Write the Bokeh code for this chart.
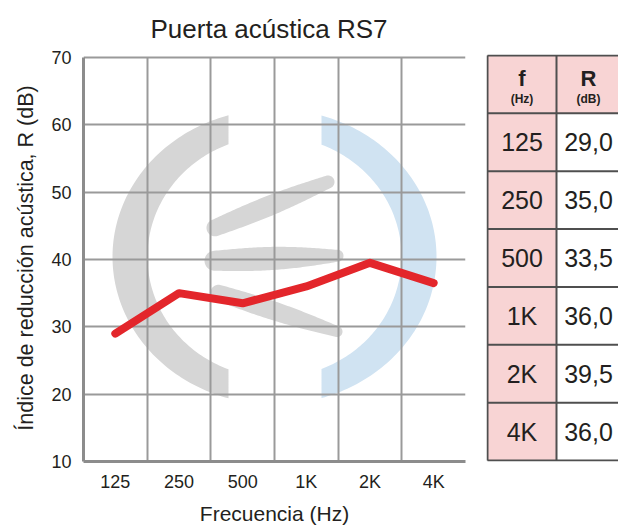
import numpy as np
from bokeh.plotting import figure
from bokeh.models import Range1d, FixedTicker, Grid
from bokeh.layouts import row
from bokeh.embed import file_html
from bokeh.resources import INLINE
from bokeh.core.properties import value

# ---------------- data ----------------
categories = ["125", "250", "500", "1K", "2K", "4K"]
curve_db = [29.0, 35.0, 33.5, 36.0, 39.5, 36.5]
table_db = [29.0, 35.0, 33.5, 36.0, 39.5, 36.0]
y_ticks = [10, 20, 30, 40, 50, 60, 70]

# ---------------- styles ----------------
FONT = "Liberation Sans"
TXT = "#231f20"
GRID = "#9a9a9a"
AXIS = "#8c8c8c"
RED = "#e3262b"
LOGO_GREY = "#d6d6d6"
LOGO_BLUE = "#d0e3f2"
PINK = "#f8d4d4"
BORDER = "#4f4f4f"

W_TOTAL, H = 618, 527
W1 = 486
ML, MR, MB = 83, 21, 65
CHART_W, CHART_H = 382, 405
has_cb = "cross_bounds" in Grid.properties()
MT = 54 if has_cb else 57

ncat = len(categories)
xs = [i + 0.5 for i in range(ncat)]
ymin, ymax = y_ticks[0], y_ticks[-1]
frame_h = H - MT - MB
y_end = ymin + (ymax - ymin) * frame_h / CHART_H

p = figure(width=W1, height=H, x_range=Range1d(0, ncat), y_range=Range1d(ymin, y_end),
           output_backend="svg", toolbar_location=None,
           min_border_left=ML, min_border_right=MR, min_border_top=MT, min_border_bottom=MB,
           title="Puerta acústica RS7")
p.background_fill_color = "white"
p.border_fill_color = "white"
p.outline_line_color = None

p.title.text_font = FONT
p.title.text_font_size = "26px"
p.title.text_font_style = "normal"
p.title.text_color = TXT
p.title.align = "left"
p.title.offset = 67
p.title.standoff = 22

# ---------------- background logo (decorative) ----------------
sx = CHART_W / ncat                 # px per category unit
sy = CHART_H / (ymax - ymin)        # px per dB
cx, cy = 3.0, 40.4


def to_data(dx, dy):
    dx = np.asarray(dx, float)
    dy = np.asarray(dy, float)
    return list(cx + dx / sx), list(cy - dy / sy)


def ring_half(side, cut, rxo, ryo, rxi, ryi):
    if side < 0:
        ao = np.arccos(-cut / rxo)
        ai = np.arccos(-cut / rxi)
        to = np.linspace(ao, 2 * np.pi - ao, 120)
        ti = np.linspace(2 * np.pi - ai, ai, 120)
    else:
        ao = np.arccos(cut / rxo)
        ai = np.arccos(cut / rxi)
        to = np.linspace(-ao, ao, 120)
        ti = np.linspace(ai, -ai, 120)
    dx = np.concatenate([rxo * np.cos(to), rxi * np.cos(ti)])
    dy = np.concatenate([-ryo * np.sin(to), -ryi * np.sin(ti)])
    return to_data(dx, dy)


def blade(p0, p1, hl, hr, bulge):
    p0 = np.array(p0, float)
    p1 = np.array(p1, float)
    d = p1 - p0
    L = np.hypot(*d)
    d = d / L
    n = np.array([d[1], -d[0]])
    t = np.linspace(0, 1, 60)
    h = hl + (hr - hl) * t + bulge * np.sin(np.pi * t)
    c = p0[None, :] + t[:, None] * (p1 - p0)[None, :]
    top = c + n[None, :] * h[:, None]
    bot = (c - n[None, :] * h[:, None])[::-1]
    a = np.linspace(0, np.pi, 30)
    capr = p1[None, :] + hr * (np.cos(a)[:, None] * n[None, :] + np.sin(a)[:, None] * d[None, :])
    capl = p0[None, :] + hl * (-np.cos(a)[:, None] * n[None, :] - np.sin(a)[:, None] * d[None, :])
    pts = np.vstack([top, capr, bot, capl])
    return to_data(pts[:, 0], pts[:, 1])


gx, gy = ring_half(-1, 46, 162, 148, 127, 121)
p.patch(gx, gy, fill_color=LOGO_GREY, line_color=None, level="image")
bx, by = ring_half(1, 47, 162, 148, 127, 121)
p.patch(bx, by, fill_color=LOGO_BLUE, line_color=None, level="image")
for (a0, a1, hl, hr, bg) in [((-59.5, -29), (53.5, -75), 8.5, 6.5, 2.5),
                             ((-60, 4), (63, -1), 10, 6, 3.5),
                             ((-56, 36), (62.5, 75), 8, 5.5, 2.5)]:
    lx, ly = blade(a0, a1, hl, hr, bg)
    p.patch(lx, ly, fill_color=LOGO_GREY, line_color=None, level="image")

# ---------------- curve ----------------
p.line(xs, curve_db, line_width=8, line_color=RED, line_cap="round", line_join="round")

# ---------------- axes / grid ----------------
p.xaxis.ticker = FixedTicker(ticks=xs)
p.xaxis.major_label_overrides = {x: c for x, c in zip(xs, categories)}
p.xaxis.bounds = (0, ncat)
p.yaxis.bounds = (ymin, ymax)
p.xgrid.ticker = FixedTicker(ticks=list(range(ncat + 1)))
p.yaxis.ticker = FixedTicker(ticks=y_ticks)
p.ygrid.ticker = FixedTicker(ticks=y_ticks)
if has_cb:
    p.xgrid.cross_bounds = (ymin, ymax)
for g in (p.xgrid, p.ygrid):
    g.grid_line_color = GRID
    g.grid_line_width = 2
    g.grid_line_alpha = 1.0

for ax in (p.xaxis, p.yaxis):
    ax.axis_line_color = AXIS
    ax.axis_line_width = 3
    ax.major_tick_line_color = None
    ax.minor_tick_line_color = None
    ax.major_tick_out = 0
    ax.major_tick_in = 0
    ax.major_label_text_font = FONT
    ax.major_label_text_color = TXT
    ax.axis_label_text_font = FONT
    ax.axis_label_text_color = TXT
    ax.axis_label_text_font_style = "normal"

p.yaxis.major_label_text_font_size = "18px"
p.yaxis.major_label_standoff = 12
p.yaxis.axis_label = "Índice de reducción acústica, R (dB)"
p.yaxis.axis_label_text_font_size = "21.5px"
p.yaxis.axis_label_standoff = 10

p.xaxis.major_label_text_font_size = "18px"
p.xaxis.major_label_standoff = 10
p.xaxis.axis_label = "Frecuencia (Hz)"
p.xaxis.axis_label_text_font_size = "21px"
p.xaxis.axis_label_standoff = 7

# ---------------- table figure (page-pixel coordinates) ----------------
W2 = W_TOTAL - W1
t = figure(width=W2, height=H, x_range=Range1d(W1, W_TOTAL), y_range=Range1d(H - MB, MT),
           output_backend="svg", toolbar_location=None,
           min_border_left=0, min_border_right=0, min_border_top=MT, min_border_bottom=MB,
           x_axis_location=None, y_axis_location=None)
t.grid.visible = False
t.outline_line_color = None
t.background_fill_color = "white"
t.border_fill_color = "white"

col_x = [487, 556, 620]
head_top, head_bot, row_h = 55, 113, 58
nrows = len(categories)
row_tops = [head_bot + i * row_h for i in range(nrows)]
bottom = row_tops[-1] + row_h

t.quad(left=[col_x[0], col_x[1]], right=[col_x[1], col_x[2]], top=[head_top, head_top],
       bottom=[bottom, bottom], fill_color=[PINK, "white"], line_color=None)
t.quad(left=[col_x[1]], right=[col_x[2]], top=[head_top], bottom=[head_bot],
       fill_color=PINK, line_color=None)

hy = [head_top] + row_tops + [bottom]
t.segment(x0=[col_x[0]] * len(hy), x1=[col_x[2]] * len(hy), y0=hy, y1=hy,
          line_color=BORDER, line_width=2)
t.segment(x0=col_x, x1=col_x, y0=[head_top] * 3, y1=[bottom] * 3,
          line_color=BORDER, line_width=2)

c1 = (col_x[0] + col_x[1]) / 2
c2 = (col_x[1] + 618 + 2) / 2
t.text(x=[c1, c2], y=[head_top + 23, head_top + 23], text=["f", "R"],
       text_font=value(FONT), text_font_size="22px", text_font_style="bold",
       text_color=TXT, text_align="center", text_baseline="alphabetic")
t.text(x=[c1, c2], y=[head_top + 43.5, head_top + 43.5], text=["(Hz)", "(dB)"],
       text_font=value(FONT), text_font_size="12px", text_font_style="bold",
       text_color=TXT, text_align="center", text_baseline="middle")

vals = [f"{v:.1f}".replace(".", ",") for v in table_db]
base_y = [rt + 29 for rt in row_tops]
t.text(x=[c1] * nrows, y=base_y, text=categories,
       text_font=value(FONT), text_font_size="25px", text_color=TXT,
       text_align="center", text_baseline="middle")
t.text(x=[c2] * nrows, y=base_y, text=vals,
       text_font=value(FONT), text_font_size="25px", text_color=TXT,
       text_align="center", text_baseline="middle")

layout = row(p, t)
open("out.html", "w").write(file_html(layout, INLINE))
